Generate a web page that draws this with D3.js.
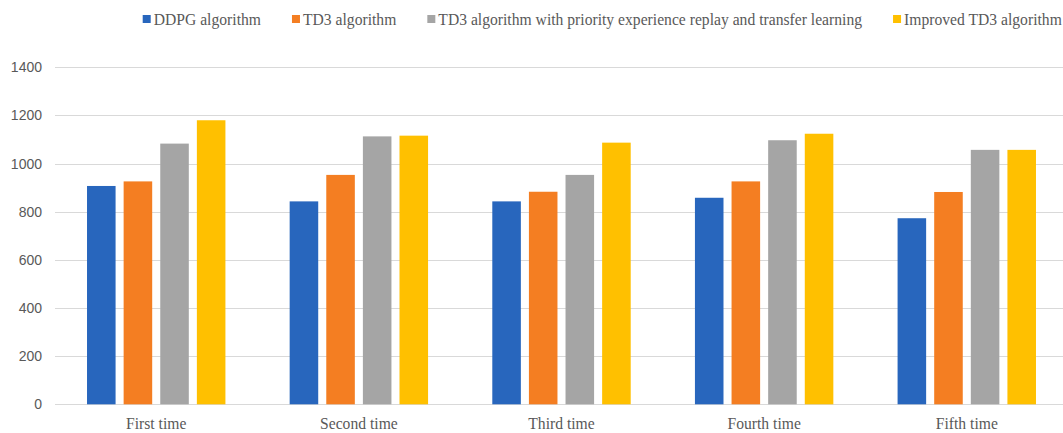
<!DOCTYPE html>
<html>
<head>
<meta charset="utf-8">
<script src="https://cdn.jsdelivr.net/npm/d3@7"></script>
<style>
  html, body { margin: 0; padding: 0; background: #fff; }
  svg { display: block; }
</style>
</head>
<body>
<svg id="chart" width="1063" height="433"></svg>
<script>
// Trial runs compared across four control algorithms
const categories = ["First time", "Second time", "Third time", "Fourth time", "Fifth time"];
const seriesNames = [
  "DDPG algorithm",
  "TD3 algorithm",
  "TD3 algorithm with priority experience replay and transfer learning",
  "Improved TD3 algorithm"
];
const ddpg      = [907, 843, 843, 858, 773];
const td3       = [926, 953, 883, 926, 882];
const td3PerTl  = [1083, 1113, 953, 1097, 1057];
const improved  = [1180, 1116, 1087, 1124, 1057];
const yTicks = [0, 200, 400, 600, 800, 1000, 1200, 1400];

const seriesValues = [ddpg, td3, td3PerTl, improved];
const colors = ["#2866bd", "#f47e22", "#a5a5a5", "#ffc000"];

const svg = d3.select("#chart");

const x0 = d3.scaleBand()
  .domain(categories)
  .range([54.9, 1068.1])
  .paddingInner(0.317)
  .paddingOuter(0.1585);

const x1 = d3.scaleBand()
  .domain(seriesNames)
  .range([0, x0.bandwidth()])
  .paddingInner(0.22);

const y = d3.scaleLinear().domain([0, 1400]).range([404.3, 67.3]);

// gridlines
svg.append("g")
  .selectAll("line")
  .data(yTicks)
  .join("line")
  .attr("x1", 55)
  .attr("x2", 1063)
  .attr("y1", d => Math.round(y(d)) + 0.5)
  .attr("y2", d => Math.round(y(d)) + 0.5)
  .attr("stroke", "#d9d9d9")
  .attr("stroke-width", 1);

// y tick labels
svg.append("g")
  .selectAll("text")
  .data(yTicks)
  .join("text")
  .attr("x", 42)
  .attr("y", d => y(d))
  .attr("dy", "0.36em")
  .attr("text-anchor", "end")
  .attr("font-family", "Liberation Sans, Arial, sans-serif")
  .attr("font-size", 14)
  .attr("fill", "#595959")
  .text(d => d);

// bars
const groups = svg.append("g")
  .selectAll("g")
  .data(categories)
  .join("g")
  .attr("transform", d => `translate(${x0(d)},0)`);

groups.selectAll("rect")
  .data((c, ci) => seriesNames.map((s, si) => ({ s, si, v: seriesValues[si][ci] })))
  .join("rect")
  .attr("x", d => x1(d.s))
  .attr("width", x1.bandwidth())
  .attr("y", d => y(d.v))
  .attr("height", d => y(0) - y(d.v))
  .attr("fill", d => colors[d.si]);

// category labels
const serif = "Liberation Serif, 'Times New Roman', serif";
const squeeze = 0.92;
svg.append("g")
  .selectAll("text")
  .data(categories)
  .join("text")
  .attr("transform", d => `translate(${x0(d) + x0.bandwidth() / 2},429) scale(${squeeze},1)`)
  .attr("text-anchor", "middle")
  .attr("font-family", serif)
  .attr("font-size", 17)
  .attr("fill", "#595959")
  .text(d => d);

// legend
const legend = svg.append("g");
let lx = 142.7;
seriesNames.forEach((name, i) => {
  legend.append("rect")
    .attr("x", lx)
    .attr("y", 15)
    .attr("width", 8)
    .attr("height", 8)
    .attr("fill", colors[i]);
  const t = legend.append("text")
    .attr("transform", `translate(${lx + 11},25) scale(${squeeze},1)`)
    .attr("font-family", serif)
    .attr("font-size", 17)
    .attr("fill", "#595959")
    .text(name);
  const w = t.node().getComputedTextLength() * squeeze;
  lx += 11 + w + 31;
});
</script>
</body>
</html>
